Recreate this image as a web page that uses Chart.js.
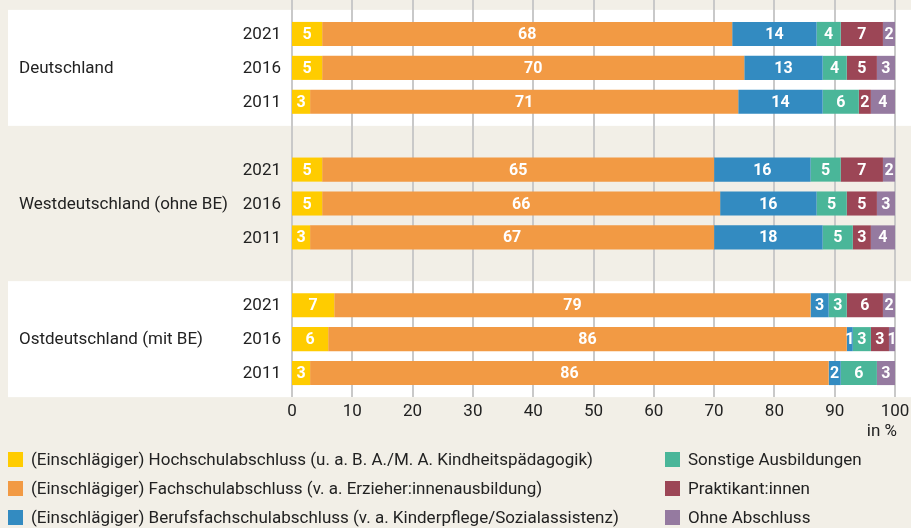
<!DOCTYPE html>
<html lang="de">
<head>
<meta charset="utf-8">
<script src="https://cdn.jsdelivr.net/npm/chart.js@4.4.1/dist/chart.umd.min.js"></script>
<style>
  html, body { margin: 0; padding: 0; background: #F2EFE7; }
  #wrap { position: relative; width: 911px; height: 528px; font-family: Roboto, sans-serif; color: #222; }
  #chart { position: absolute; left: 0; top: 0; }
  #legend { position: absolute; left: 0; top: 447px; width: 911px; }
  .item { position: absolute; height: 24px; line-height: 24px; font-size: 17px; white-space: nowrap; }
  .item span.sw { position: absolute; left: 0; top: 5px; width: 15px; height: 15px; }
  .item span.tx { position: absolute; left: 23px; top: 0; }
</style>
</head>
<body>
<div id="wrap">
  <canvas id="chart" width="911" height="528"></canvas>
  <div id="legend"></div>
</div>
<script>
const regions = ['Deutschland', 'Westdeutschland (ohne BE)', 'Ostdeutschland (mit BE)'];
const years = ['2021', '2016', '2011'];

const seriesNames = [
  '(Einschlägiger) Hochschulabschluss (u. a. B. A./M. A. Kindheitspädagogik)',
  '(Einschlägiger) Fachschulabschluss (v. a. Erzieher:innenausbildung)',
  '(Einschlägiger) Berufsfachschulabschluss (v. a. Kinderpflege/Sozialassistenz)',
  'Sonstige Ausbildungen',
  'Praktikant:innen',
  'Ohne Abschluss'
];
const seriesColors = ['#FFCC00', '#F29A44', '#338BC1', '#4AB699', '#9C4656', '#957AA0'];

// per region: 2021, 2016, 2011 (Deutschland | West | Ost)
const hochschule = [5, 5, 3,  5, 5, 3,  7, 6, 3];
const fachschule = [68, 70, 71,  65, 66, 67,  79, 86, 86];
const berufsfach = [14, 13, 14,  16, 16, 18,  3, 1, 2];
const sonstige   = [4, 4, 6,  5, 5, 5,  3, 3, 6];
const praktikant = [7, 5, 2,  7, 5, 3,  6, 3, 0];
const ohne       = [2, 3, 4,  2, 3, 4,  2, 1, 3];

const xTicks = [0, 10, 20, 30, 40, 50, 60, 70, 80, 90, 100];

// one empty row between the regions
function withGaps(arr) {
  const out = [];
  regions.forEach((r, i) => {
    if (i > 0) out.push(null);
    out.push(...arr.slice(i * 3, i * 3 + 3));
  });
  return out;
}
const rowLabels = withGaps(regions.flatMap(() => years)).map(v => v === null ? '' : v);
const allSeries = [hochschule, fachschule, berufsfach, sonstige, praktikant, ohne];

const FONT = 'Roboto, sans-serif';

const panels = {
  id: 'panels',
  beforeDraw(chart) {
    const { ctx, scales: { x, y }, width } = chart;
    const half = y.getPixelForValue(1) - y.getPixelForValue(0);
    ctx.save();
    ctx.fillStyle = '#F2EFE7';
    ctx.fillRect(0, 0, width, chart.height);
    // white panels behind first and last region
    ctx.fillStyle = '#FFFFFF';
    [0, 2].forEach(r => {
      const top = y.getPixelForValue(r * 4) - half * 0.71;
      const bot = y.getPixelForValue(r * 4 + 2) + half * 0.71;
      ctx.fillRect(8, top, width - 8, bot - top);
    });
    // vertical grid
    const bottom = y.getPixelForValue(10) + half * 0.71;
    ctx.strokeStyle = '#C9C9C9';
    ctx.lineWidth = 2;
    xTicks.forEach(t => {
      const px = Math.round(x.getPixelForValue(t));
      ctx.beginPath();
      ctx.moveTo(px, 0);
      ctx.lineTo(px, bottom);
      ctx.stroke();
    });
    ctx.fillStyle = '#222';
    ctx.font = '17px ' + FONT;
    ctx.textBaseline = 'middle';
    // region names
    ctx.textAlign = 'left';
    regions.forEach((r, i) => {
      ctx.fillText(r, 19, y.getPixelForValue(i * 4 + 1) + 1);
    });
    // year labels
    ctx.textAlign = 'right';
    rowLabels.forEach((lab, i) => {
      if (lab) ctx.fillText(lab, x.left - 11, y.getPixelForValue(i) + 1);
    });
    // unit below the axis
    ctx.fillText('in %', x.right + 2, 432);
    ctx.restore();
  }
};

const valueLabels = {
  id: 'valueLabels',
  afterDatasetsDraw(chart) {
    const { ctx } = chart;
    ctx.save();
    ctx.fillStyle = '#FFFFFF';
    ctx.font = 'bold 16px ' + FONT;
    ctx.textAlign = 'center';
    ctx.textBaseline = 'middle';
    chart.data.datasets.forEach((ds, di) => {
      chart.getDatasetMeta(di).data.forEach((bar, i) => {
        const v = ds.data[i];
        if (!v) return;
        const { x, base, y } = bar.getProps(['x', 'base', 'y'], true);
        ctx.fillText(String(v), (x + base) / 2, y + 1);
      });
    });
    ctx.restore();
  }
};

new Chart(document.getElementById('chart'), {
  type: 'bar',
  data: {
    labels: rowLabels,
    datasets: allSeries.map((s, i) => ({
      label: seriesNames[i],
      data: withGaps(s),
      backgroundColor: seriesColors[i],
      borderWidth: 0,
      categoryPercentage: 1,
      barPercentage: 0.71
    }))
  },
  options: {
    indexAxis: 'y',
    responsive: false,
    animation: false,
    layout: { padding: { top: 17, left: 0, right: 0, bottom: 0 } },
    plugins: {
      legend: { display: false },
      tooltip: { enabled: false }
    },
    scales: {
      x: {
        stacked: true,
        min: 0,
        max: 100,
        grid: { display: false },
        border: { display: false },
        ticks: {
          stepSize: 10,
          color: '#222',
          font: { family: FONT, size: 17 },
          padding: 4
        },
        afterFit(s) {
          s.height = 138;
          s.paddingRight = 16;
        }
      },
      y: {
        stacked: true,
        grid: { display: false, drawTicks: false },
        border: { display: false },
        ticks: { display: false },
        afterFit(s) { s.width = 292; }
      }
    }
  },
  plugins: [panels, valueLabels]
});

// legend in two columns
const legend = document.getElementById('legend');
const colX = [8, 665];
seriesNames.forEach((name, i) => {
  const col = i < 3 ? 0 : 1;
  const row = i % 3;
  const el = document.createElement('div');
  el.className = 'item';
  el.style.left = colX[col] + 'px';
  el.style.top = (row * 29) + 'px';
  el.innerHTML = '<span class="sw" style="background:' + seriesColors[i] + '"></span><span class="tx"></span>';
  el.querySelector('.tx').textContent = name;
  legend.appendChild(el);
});
</script>
</body>
</html>
